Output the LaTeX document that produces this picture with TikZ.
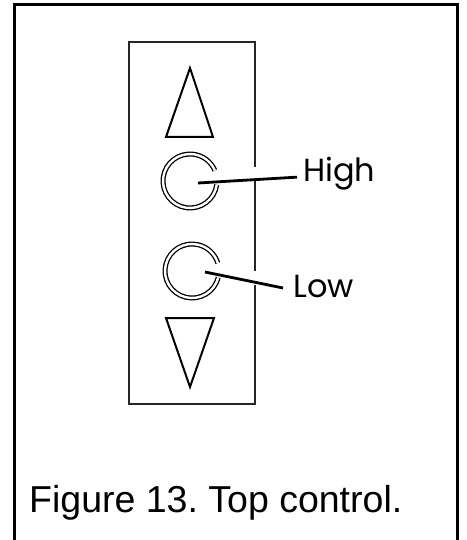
\documentclass[tikz,border=0pt]{standalone}
\usepackage{fontspec}
\setmainfont{Liberation Sans}
\newfontfamily\labfont{Poppins}
\frenchspacing
\begin{document}
\begin{tikzpicture}[x=1pt,y=-1pt,
  frame/.style={line width=3pt},
  panel/.style={line width=2.2pt, draw=black!85},
  tri/.style={line width=2pt, line join=miter},
  ring/.style={draw=black, line width=1.3pt, double=white, double distance=2.4pt},
  leader/.style={line width=2.8pt},
  lab/.style={inner sep=0pt, font=\labfont\fontsize{32}{32}\selectfont},
  captext/.style={inner sep=0pt, font=\fontsize{37.5}{37.5}\selectfont}]
\useasboundingbox (0,0) rectangle (466,540);
% outer frame (open at bottom)
\draw[frame] (14,548) -- (14,5) -- (457,5) -- (457,548);
% panel
\draw[panel] (129,42) rectangle (255,404);
% halos where leaders cross the panel edge
\fill[white] (252,167) rectangle (258,181);
\fill[white] (252,271) rectangle (258,285);
% triangles
\draw[tri] (166,137) -- (213,137) -- (190,68) -- cycle;
\draw[tri] (166,318) -- (214,318) -- (190,387) -- cycle;
% rings
\draw[ring] (190,181) ++(8:27) arc[start angle=8, end angle=337, radius=27];
\draw[ring] (192,271) ++(14:27) arc[start angle=14, end angle=343, radius=27];
% labels
\node[lab, anchor=base west] (high) at (303,182) {High};
\node[lab, anchor=base west] (low) at (293,297) {Low};
\coordinate (hc) at (198,183);
\coordinate (lc) at (205,272);
\draw[leader] (hc) -- ([xshift=-6pt,yshift=-3pt]high.west);
\draw[leader] (lc) -- ([xshift=-10pt,yshift=-2pt]low.west);
% caption
\node[captext, anchor=base west] (caption) at (29,512) {Figure 13. Top control.};
\end{tikzpicture}
\end{document}
